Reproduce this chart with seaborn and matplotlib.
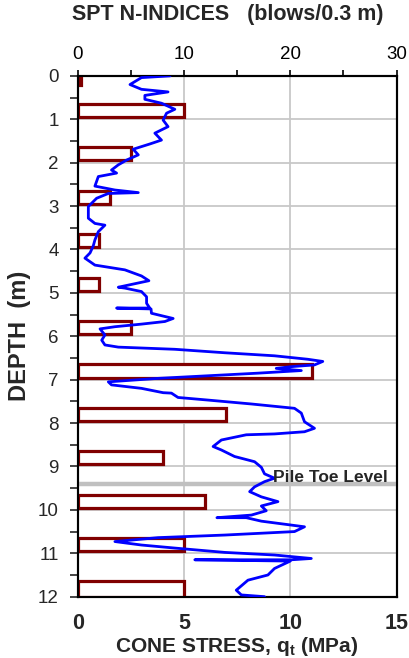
import numpy as np
import pandas as pd
import matplotlib
matplotlib.use("Agg")
import matplotlib.pyplot as plt
from matplotlib.ticker import MultipleLocator
import seaborn as sns

# --- CPT cone stress profile (MPa vs depth in m), in recorded order ---
cone_stress = [
    4.35, 3.00, 2.46, 3.00, 4.25, 3.16, 3.16, 3.94, 4.57, 4.18,
    4.02, 4.25, 3.63, 3.94, 3.39, 2.61, 2.85, 2.30, 1.91, 1.59,
    1.83, 0.97, 0.81, 1.75, 2.85, 1.44, 0.89, 0.50, 0.50, 0.81,
    1.28, 0.97, 0.81, 0.73, 0.58, 0.34, 0.81, 2.22, 3.00, 3.35,
    1.91, 2.22, 3.00, 3.24, 3.24, 3.39, 1.83, 3.45, 3.47, 4.49,
    4.10, 3.00, 1.75, 1.05, 1.28, 1.13, 1.28, 1.91, 4.57, 6.92,
    9.26, 10.83, 11.53, 11.14, 10.05, 9.34, 10.52, 8.48, 6.13, 3.78,
    1.44, 1.59, 3.00, 4.02, 4.41, 4.72, 6.13, 8.17, 10.20, 10.52,
    10.67, 11.14, 10.67, 9.26, 7.93, 6.76, 6.37, 6.76, 7.38, 8.32,
    8.64, 8.79, 9.26, 8.79, 8.32, 8.09, 8.64, 9.42, 8.64, 8.87,
    8.17, 6.55, 7.93, 8.64, 10.67, 10.20, 6.92, 3.78, 1.75, 3.00,
    4.57, 6.92, 9.26, 10.99, 10.05, 5.51, 10.00, 9.26, 8.95, 8.01,
    7.46, 7.70, 8.79,
]
cpt_depth = [
    0.00, 0.04, 0.20, 0.31, 0.37, 0.45, 0.54, 0.63, 0.77, 0.86,
    1.02, 1.17, 1.32, 1.48, 1.57, 1.69, 1.82, 1.94, 2.05, 2.17,
    2.24, 2.32, 2.54, 2.63, 2.69, 2.71, 2.82, 3.01, 3.28, 3.40,
    3.44, 3.59, 3.78, 3.92, 4.08, 4.20, 4.36, 4.47, 4.61, 4.72,
    4.87, 4.89, 4.97, 5.09, 5.24, 5.35, 5.35, 5.37, 5.47, 5.59,
    5.66, 5.72, 5.78, 5.83, 5.97, 6.09, 6.20, 6.25, 6.30, 6.38,
    6.45, 6.53, 6.58, 6.66, 6.70, 6.74, 6.79, 6.85, 6.91, 6.97,
    7.05, 7.12, 7.20, 7.30, 7.31, 7.41, 7.47, 7.56, 7.66, 7.77,
    7.97, 8.12, 8.20, 8.25, 8.27, 8.39, 8.54, 8.62, 8.77, 8.89,
    9.02, 9.17, 9.27, 9.35, 9.47, 9.58, 9.70, 9.81, 9.91, 10.02,
    10.12, 10.18, 10.18, 10.26, 10.39, 10.50, 10.58, 10.64, 10.73, 10.81,
    10.88, 10.98, 11.04, 11.12, 11.15, 11.15, 11.18, 11.35, 11.50, 11.62,
    11.85, 11.96, 12.00,
]

# --- SPT N-values (blows/0.3 m) over each test interval ---
spt_top = [0.00, 0.65, 1.65, 2.65, 3.65, 4.65, 5.65, 6.65, 7.65, 8.65, 9.65, 10.65, 11.65]
spt_thickness = [0.20, 0.30, 0.30, 0.30, 0.30, 0.30, 0.30, 0.30, 0.30, 0.30, 0.30, 0.30, 0.35]
spt_n = [0.3, 10, 5, 3, 2, 2, 5, 22, 14, 8, 12, 10, 10]

pile_toe_depth = 9.40
pile_toe_label = "Pile Toe Level"

depth_ticks = list(range(0, 13))
stress_ticks = [0, 5, 10, 15]
spt_ticks = [0, 10, 20, 30]

cpt = pd.DataFrame({"qc": cone_stress, "depth": cpt_depth})

sns.set_style("white")
plt.rcParams["font.family"] = ["Liberation Sans", "DejaVu Sans"]
plt.rcParams["mathtext.default"] = "regular"

fig = plt.figure(figsize=(4.09, 6.58), dpi=100)
ax = fig.add_axes([0.19, 0.0932, 0.7795, 0.7915])
ax2 = ax.twiny()

# SPT axis sits underneath: white background, grid and bars
ax2.set_zorder(1)
ax2.patch.set_visible(True)
ax2.patch.set_facecolor("white")
ax.set_zorder(2)
ax.patch.set_visible(False)

ax2.set_xlim(0, 30)
ax2.yaxis.set_visible(True)
ax2.set_xticks(spt_ticks)
ax2.xaxis.set_minor_locator(MultipleLocator(5))
ax2.grid(True, which="major", axis="both", color="#c8c8c8", lw=1.3)
ax2.set_axisbelow(True)
ax2.tick_params(axis="y", left=False, right=False, labelleft=False, labelright=False)
ax2.tick_params(axis="x", which="both", direction="out", length=4, width=1.2,
                top=True, bottom=False, labelsize=13.5, pad=5, colors="black")
ax2.barh(spt_top, spt_n, height=spt_thickness, align="edge",
         facecolor="white", edgecolor="#800000", linewidth=2.3, zorder=3)
ax2.set_xlabel("SPT N-INDICES   (blows/0.3 m)", fontsize=15.5, fontweight="bold")
ax2.xaxis.set_label_coords(0.47, 1.117)
ax2.xaxis.label.set_va("center")

# CPT profile on the main axis
ax.axhline(pile_toe_depth, color="#c0c0c0", lw=3.2, zorder=1)
sns.lineplot(data=cpt, x="qc", y="depth", sort=False, orient="y",
             estimator=None, color="#0000ff", lw=2.0, ax=ax, zorder=3)
ax.text(9.18, pile_toe_depth - 0.04, pile_toe_label, fontsize=12.5,
        fontweight="bold", va="baseline", ha="left", zorder=4)

ax.set_xlim(0, 15)
ax.set_ylim(12, 0)
ax.set_xticks(stress_ticks)
ax.set_yticks(depth_ticks)
ax.yaxis.set_minor_locator(MultipleLocator(0.5))
ax.grid(False)
ax.tick_params(axis="x", bottom=False, top=False, labelsize=15.5, pad=8)
for lab in ax.get_xticklabels():
    lab.set_fontweight("bold")
ax.tick_params(axis="y", which="both", direction="out", length=5.5, width=1.2,
               left=True, labelsize=13.5, pad=8)
ax.set_xlabel("CONE STRESS, q$_t$ (MPa)", fontsize=15, fontweight="bold", labelpad=1)
ax.set_ylabel("DEPTH  (m)", fontsize=17, fontweight="bold", labelpad=5)

for a in (ax, ax2):
    for s in a.spines.values():
        s.set_visible(True)
        s.set_color("black")
        s.set_linewidth(1.5)

fig.savefig("out.png", dpi=100, facecolor="white")
